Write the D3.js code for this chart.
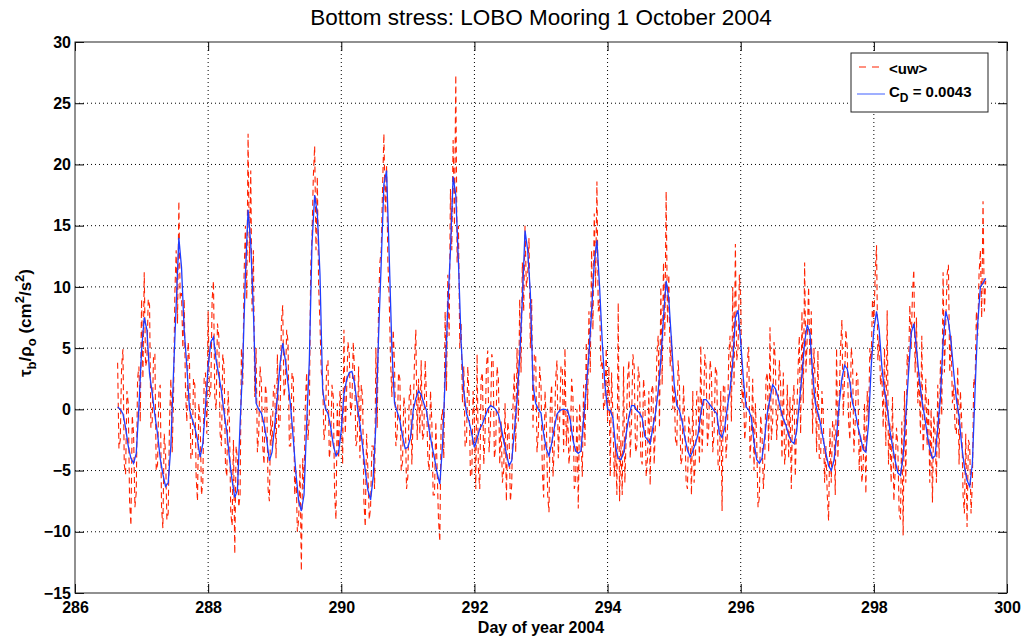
<!DOCTYPE html>
<html lang="en">
<head>
<meta charset="utf-8">
<title>Bottom stress: LOBO Mooring 1 October 2004</title>
<script src="https://d3js.org/d3.v7.min.js"></script>
<style>
  body { margin: 0; background: #fff; }
  svg { font-family: "Liberation Sans", Arial, Helvetica, sans-serif; }
  .tick text { font-size: 16px; font-weight: bold; fill: #000; }
  .grid line { stroke: #000; stroke-dasharray: 1,3; stroke-width: 1; }
</style>
</head>
<body>
<script>
// <uw> (red dashed), cm^2/s^2, sampled from day 286.64 every 0.02 d, one row per day
var uwStart = 286.64, uwStep = 0.02;
var uwStress = [
  3.8, -3.2, -2.5, 3.5, 4.9, -4.5, -5.3, 1.5, 0.5, -7.5, -9.5, -0.5, -2, -8, -6.8, 2.5, 3.5, -1, 9, 2.5, 11.2, 3.5, 4, 9, 8.5, -1.5, -1, 4.5, 4.5, -5, -4.5, 1.5, 2, -8, -9.7, -2, -3.5, -9, -8.5, -1, 2.5, -3.5, 1, 9.5, 13, 7, 17, 9, 9.5, 5,
  9, 1.5, -1, 5.5, 3.8, -4, -4, 2.5, 2, -5.5, -7.5, 0.5, -1, -7, -6, 2.5, 3, -2, 8, 1, 1.5, 9, 10.5, 1, 0, 7, 6, -2, -3, 4.5, 3.5, -4.5, -5.5, 1.5, -1, -8.5, -9.5, -2.5, -11.8, -3, -4, -8, -7, 5, 2, 11, 15, 9, 22.5, 12,
  19.5, 8, 13, 1, 5, -3.5, -2, 3.5, 2.2, -3, -4.5, 2, 1, -6.5, -7.5, -0.5, -3, 1.5, 2, -4, 4.5, -1.5, -1, 7, 8.5, 1, 2, 6.5, 5.5, -3, -3, 3, 2.5, -7, -5, -10, -9, -4.5, -13.2, -4, -6.5, 0.5, 3, -2.5, -0.5, 11.5, 14, 19, 21.5, 13,
  19, 10, 7, 3, 2.5, -2.5, -1.5, 3.5, 4, -4, -3, 2, 1, -7, -9, 0.5, -4, 1.5, 0, -4.5, 6.5, -2, 1.5, 5.5, 4.5, -0.5, 0.5, 5.5, 3, -3, -2.5, 3.5, -4, 2, 1, -7.5, -9.6, -2, -5, -9, -8, -3, -3, -6.5, 5, -1.5, 8.5, 12, 13, 18,
  22.5, 16, 20, 12, 9, 4, 1, 6.5, 3.5, -3, -2, 3, 2.5, -5, -4.3, 1, 0, -6.5, -5.5, 1, 2, -4.5, -0.5, 4, 6.5, -2.5, 2.5, -2, 4, -2.5, -2, 4, 1, -4, -5, 1.5, -1, -7, -7, -1, -5, -9, -10.8, -1, 0, -4, 8, 1.5, 11, 6,
  18, 13, 22, 15, 27.3, 12, 15, 5, 7, 0.5, 3.5, -3, -3, 3.5, 1, -5.5, -5.5, 1.5, -1, -6.5, 4.5, -5, -6.5, 2.5, 3, -4.5, -2, 3.5, 4.8, -3.5, -1.5, 4.5, 4, -4, -3, 3.5, 2.5, -4.5, -1, -6, -5, 0.5, -7.5, -1, -2, -7.5, -6.2, 0.5, 3, -3.5,
  5, -1, 9, 3, 12, 8, 15, 10, 11, 14, 5, 9, -1.5, 4.5, 4.5, -3.5, -2, 3.5, 2, -5, -7.2, 1.5, -1, -7, -8.4, 0.5, 2, -5.5, -3, 2.5, 4, -4, -1, 3.5, 3.5, -3.5, 5, -3, 0, -4.5, -3, 2.5, 1, -6.5, -6, 0, -8.1, 0.5, -2, -5.5,
  2, -3, 5.5, 0, 8, 3, 13, 6.5, 16, 10, 18.6, 8, 9, 3.5, 4, 0, 0.5, 5, -1, 3.5, -5.5, 3, -0.5, -5.5, -3, -7, 8.7, -7.5, -2.5, -7, 3.5, -6, -2, 2.5, 4, -4, -1, 4.5, 3.5, -3.5, -3, 3.5, 2.5, -4, -4.5, 2.5, 1, -5.5, -4, 1.5,
  -6.2, 1.5, 2, -4.5, -1, 4.5, 6, -1.5, 10, 2, 12, 6, 17.8, 7, 11, 3.5, 6, 0, 2, -2.5, -3, 4, 2, -4.5, -4, 2, -1, -6, -6.5, -0.5, -2, -7, 1.5, -6, -4, 1.5, 1, -4.5, 5.2, -3.5, -0.5, 4.5, 3.5, -3, -1.5, 4, 3, -3.5, -2, 3.5,
  3, -4.5, -5, 1.5, -8.3, 2, 2, -4, -2, 4.5, 6, -1, 10, 2, 13.5, 4, 5, 11, 9, 0.5, 2, -2.5, -1, 4, 5.1, -4, -2, 2.5, -5, 0.5, -2.5, -8, -7.2, -0.5, -2, -6.5, -4.5, 2.5, 3, -3.5, 6.7, -2.5, -1, 5.5, 4, -2.5, 0, 4, 2, -4,
  3, -4.5, -3, 2, -4, 1, -6.5, 0.5, 2, -5.5, -1, 3, 6, -2, 8, 0.5, 12, 3, 6, 10, 3.5, 8, -2, 5, 2, -3.5, 4.8, -4, -4, 1.5, -0.5, -6, -3, -7, -9.1, -1.5, -6, -1, -1, -7, 5, -4, 1, 5, 7.3, -0.5, 2.5, 6.5, 5, -1,
  -2.5, 5, 4, -3.5, -1, 3, 2.5, -5, -2, -6, -4.5, 0.5, -6.9, 1.5, -1, 5, 4, 9, 7, 11, 13.4, 4, 6, 2, 3, -1.5, 5, -3, 8.1, -4.5, -1, -6, 1, -7.5, -5, -1.5, -3, -8.5, -9, -1, -10.3, 1.5, -6, 4.5, 3, 8.5, 5, 9.5, 11.4, 3,
  7.5, 0.5, 3, -2, 6, -3.5, -1, 2.5, -3, 1, -6, 0, -7.6, -0.5, -2, -6, 2, -4, 4, -0.5, 11.2, 3, 7, 11, 11.8, 3, 6, 0.5, 2, -1.5, -2, 3.5, -4.5, 1.5, -1, -7, -8.5, -2, -9.6, -2.5, -3, -8.5, -6, 2.5, 2, 8, 6, 11, 13, 7.5,
  17, 8, 10.5
];

// C_D = 0.0043 estimate (blue solid), sampled from day 286.64 every 0.04 d
var cdStart = 286.64, cdStep = 0.04;
var cdStress = [
  0.2, 0, -0.35, -1.5, -3, -4, -4.4, -3.6, 0.2, 4.8, 7.5, 6.5, 2.9, 1.3, -0.5, -2, -4, -5.3, -6.3, -6, -3, 3, 8.5, 14, 11.6,
  6.5, 3.5, 0, -0.8, -1.5, -2.5, -3.9, -2.8, 0.2, 3.5, 5.5, 5.9, 4, 2.8, 1.5, -0.3, -1.8, -4, -5.8, -7.2, -6.6, -1.2, 3.7, 11, 16.3,
  13.5, 8, 0.5, 0, -0.3, -1.2, -2.5, -4.2, -3.5, -1.3, 1, 3.7, 5.4, 4, 2.1, 0.2, -2.5, -5.3, -7.5, -8.3, -7, -1.2, 4, 13.5, 17.5,
  16, 11, 1.6, 0.1, -0.35, -1.4, -2.9, -3.8, -3.5, -1.7, 1.2, 2.4, 3, 3.1, 2.1, 0.3, -1.2, -3, -5, -6.6, -7.4, -5.5, -1.2, 6, 12,
  18.4, 19.5, 12.5, 5, 0.5, -0.2, -0.9, -2.2, -3.2, -3.1, -2.3, -0.1, 0.9, 1.5, 1.2, 0.5, -0.1, -1.7, -2.9, -4, -5.2, -6.1, -3, 2.5, 8.4,
  13, 19, 17.5, 12, 5.5, 1.5, -0.3, -1, -2, -3.1, -2.4, -1.6, -1.2, -0.6, 0, 0.3, 0.2, 0, -0.4, -1.4, -2.6, -3.6, -4.6, -4.2, -1.8,
  0.8, 4.3, 9, 14.6, 13, 9.5, 2, 0.5, 0, -0.3, -2, -3.2, -3.8, -2.8, -1.5, -0.4, -0.1, 0, 0, -0.1, -0.9, -2.5, -3.4, -3.6, -3.4,
  -0.8, 1.8, 4.5, 8, 12, 13.8, 10, 5.5, 2, 0, -0.1, -0.7, -3, -4, -4.1, -3.6, -2, -0.6, 0.3, 0.3, -0.1, -0.3, -0.7, -2.2, -2.5,
  -2.8, -1.5, -0.3, 1.5, 4, 7.5, 10.5, 9, 5.6, 2.1, 0.3, -0.1, -1, -2.3, -3.3, -3.9, -3.4, -2.8, -2, -0.35, 0.8, 0.8, 0.5, 0.2, -0.1,
  -0.35, -2, -2.3, -1.5, 0.2, 1.6, 3.8, 7.5, 8.1, 5.5, 2.5, 0.2, -0.05, -0.7, -2.7, -4.1, -4.4, -4, -2.3, -0.3, 0.9, 2, 1.7, 1, 0,
  -0.8, -1.3, -2.1, -2.6, -2.8, -1.8, 0.5, 2.8, 5.5, 6.9, 6.2, 2.9, 0.5, -0.3, -1.2, -2.5, -3.6, -4.6, -5, -4.2, -2.2, 0.5, 2.5, 3.6, 3.3,
  2.2, 0.5, -0.2, -1.4, -2.3, -3.3, -3.5, -1.2, 3.5, 6.5, 8, 6.5, 3.5, 1.5, 0.2, -1.7, -3, -4.2, -5.2, -5.4, -3.8, -0.5, 2.9, 6.2, 7,
  5, 2.6, 0.8, -0.5, -2, -3.2, -4, -3.8, -1.5, 1, 5.5, 8, 7.2, 5.5, 3, 0.8, -0.6, -3, -4.7, -5.8, -6.3, -4.4, 1.5, 7, 10,
  10.3, 10.7
];

var xTicks = [286, 288, 290, 292, 294, 296, 298, 300];
var yTicks = [-15, -10, -5, 0, 5, 10, 15, 20, 25, 30];

var W = 1031, H = 641;
var plotL = 75, plotR = 1007, plotT = 42, plotB = 593;

var svg = d3.select("body").append("svg")
    .attr("width", W)
    .attr("height", H);

var x = d3.scaleLinear().domain([286, 300]).range([plotL, plotR]);
var y = d3.scaleLinear().domain([-15, 30]).range([plotB, plotT]);

// grid
var grid = svg.append("g").attr("class", "grid");
grid.selectAll(".gx").data(xTicks.slice(1, -1)).enter().append("line")
    .attr("x1", function(d) { return x(d); }).attr("x2", function(d) { return x(d); })
    .attr("y1", plotT).attr("y2", plotB);
grid.selectAll(".gy").data(yTicks.slice(1, -1)).enter().append("line")
    .attr("y1", function(d) { return y(d); }).attr("y2", function(d) { return y(d); })
    .attr("x1", plotL).attr("x2", plotR);

svg.append("clipPath").attr("id", "plotclip").append("rect")
    .attr("x", plotL).attr("y", plotT).attr("width", plotR - plotL).attr("height", plotB - plotT);

var plot = svg.append("g").attr("clip-path", "url(#plotclip)");
plot.append("path")
    .datum(uwStress)
    .attr("d", d3.line()
        .x(function(d, i) { return x(uwStart + i * uwStep); })
        .y(function(d) { return y(d); }))
    .attr("fill", "none")
    .attr("stroke", "#ff2200")
    .attr("stroke-width", 1.1)
    .attr("stroke-dasharray", "6,4");
plot.append("path")
    .datum(cdStress)
    .attr("d", d3.line()
        .x(function(d, i) { return x(cdStart + i * cdStep); })
        .y(function(d) { return y(d); }))
    .attr("fill", "none")
    .attr("stroke", "#1f3cff")
    .attr("stroke-width", 1.3);

// axes, ticks pointing inward
svg.append("g")
    .attr("transform", "translate(0," + plotB + ")")
    .call(d3.axisBottom(x).tickValues(xTicks).tickSizeInner(-9).tickSizeOuter(0).tickPadding(9).tickFormat(d3.format("d")));
svg.append("g")
    .attr("transform", "translate(" + plotL + ",0)")
    .call(d3.axisLeft(y).tickValues(yTicks).tickSizeInner(-9).tickSizeOuter(0).tickPadding(4));
svg.append("g")
    .attr("transform", "translate(0," + plotT + ")")
    .call(d3.axisTop(x).tickValues(xTicks).tickSizeInner(-9).tickSizeOuter(0).tickFormat(""));
svg.append("g")
    .attr("transform", "translate(" + plotR + ",0)")
    .call(d3.axisRight(y).tickValues(yTicks).tickSizeInner(-9).tickSizeOuter(0).tickFormat(""));
svg.selectAll(".domain").remove();
svg.selectAll(".tick line").attr("stroke", "#000");

svg.append("rect")
    .attr("x", plotL).attr("y", plotT)
    .attr("width", plotR - plotL).attr("height", plotB - plotT)
    .attr("fill", "none").attr("stroke", "#222").attr("stroke-width", 1);

// title and labels
svg.append("text")
    .attr("x", (plotL + plotR) / 2).attr("y", 25)
    .attr("text-anchor", "middle")
    .style("font-size", "22.5px")
    .text("Bottom stress: LOBO Mooring 1 October 2004");

svg.append("text")
    .attr("x", (plotL + plotR) / 2).attr("y", 633)
    .attr("text-anchor", "middle")
    .style("font-size", "16px")
    .style("font-weight", "bold")
    .text("Day of year 2004");

var yl = svg.append("text")
    .attr("transform", "translate(31,323) rotate(-90)")
    .attr("text-anchor", "middle")
    .style("font-size", "17px")
    .style("font-weight", "bold");
yl.append("tspan").text("\u03c4");
yl.append("tspan").attr("dy", 5).style("font-size", "13px").text("b");
yl.append("tspan").attr("dy", -5).text("/\u03c1");
yl.append("tspan").attr("dy", 5).style("font-size", "13px").text("o");
yl.append("tspan").attr("dy", -5).text(" (cm");
yl.append("tspan").attr("dy", -7).style("font-size", "13px").text("2");
yl.append("tspan").attr("dy", 7).text("/s");
yl.append("tspan").attr("dy", -7).style("font-size", "13px").text("2");
yl.append("tspan").attr("dy", 7).text(")");

// legend
var lg = svg.append("g");
lg.append("rect")
    .attr("x", 851).attr("y", 53).attr("width", 137).attr("height", 59)
    .attr("fill", "#fff").attr("stroke", "#222");
lg.append("line")
    .attr("x1", 859).attr("x2", 882).attr("y1", 67).attr("y2", 67)
    .attr("stroke", "#ff2200").attr("stroke-width", 1.2).attr("stroke-dasharray", "7,6");
lg.append("text").attr("x", 889).attr("y", 74)
    .style("font-size", "15px").style("font-weight", "bold").text("<uw>");
lg.append("line")
    .attr("x1", 857).attr("x2", 885).attr("y1", 94).attr("y2", 94)
    .attr("stroke", "#7f95ff").attr("stroke-width", 1.5);
var lt = lg.append("text").attr("x", 889).attr("y", 97)
    .style("font-size", "15px").style("font-weight", "bold");
lt.append("tspan").text("C");
lt.append("tspan").attr("dy", 5).style("font-size", "12px").text("D");
lt.append("tspan").attr("dy", -5).text(" = 0.0043");
</script>
</body>
</html>
